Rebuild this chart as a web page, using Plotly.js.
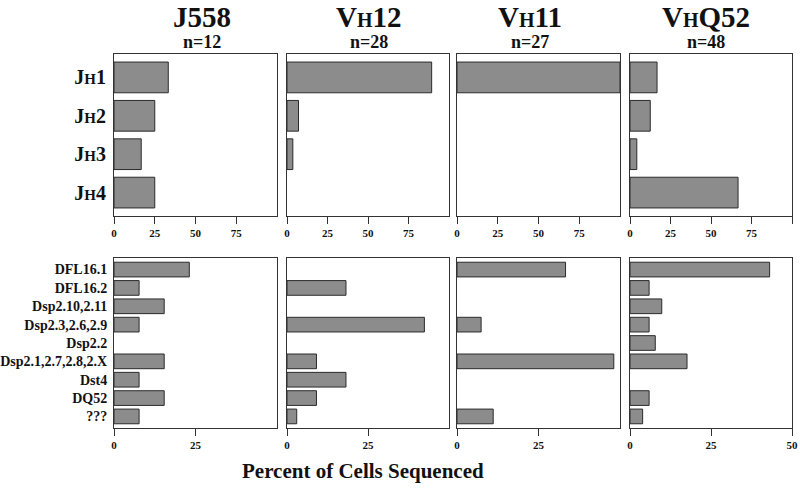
<!DOCTYPE html>
<html>
<head>
<meta charset="utf-8">
<script src="https://cdn.plot.ly/plotly-3.0.1.min.js"></script>
<style>html,body{margin:0;padding:0;background:#fff;}#chart{width:800px;height:502px;}</style>
</head>
<body>
<div id="chart"></div>
<script>
// ---- data ----
const jCats = ['JH1', 'JH2', 'JH3', 'JH4'];
const jLabels = ["J<span style='font-size:15px'>H</span>1", "J<span style='font-size:15px'>H</span>2",
                 "J<span style='font-size:15px'>H</span>3", "J<span style='font-size:15px'>H</span>4"];
const dCats = ['DFL16.1', 'DFL16.2', 'Dsp2.10,2.11', 'Dsp2.3,2.6,2.9', 'Dsp2.2',
               'Dsp2.1,2.7,2.8,2.X', 'Dst4', 'DQ52', '???'];
const families = ['J558', 'VH12', 'VH11', 'VHQ52'];
const familyLabels = ['J558', "V<span style='font-size:20px'>H</span>12",
                      "V<span style='font-size:20px'>H</span>11", "V<span style='font-size:20px'>H</span>Q52"];
const nLabels = ['n=12', 'n=28', 'n=27', 'n=48'];

const jJ558  = [33.3, 25.0, 16.7, 25.0];
const jVH12  = [89.3, 7.1, 3.6, 0];
const jVH11  = [100, 0, 0, 0];
const jVHQ52 = [16.7, 12.5, 4.2, 66.7];

const dJ558  = [23.1, 7.7, 15.4, 7.7, 0, 15.4, 7.7, 15.4, 7.7];
const dVH12  = [0, 18.2, 0, 42.4, 0, 9.1, 18.2, 9.1, 3.0];
const dVH11  = [33.3, 0, 0, 7.4, 0, 48.1, 0, 0, 11.1];
const dVHQ52 = [43.1, 5.9, 9.8, 5.9, 7.8, 17.6, 0, 5.9, 3.9];

const jTicks = [[0, 25, 50, 75], [0, 25, 50, 75], [0, 25, 50, 75], [0, 25, 50, 75, 100]];
const dTicks = [[0, 25], [0, 25], [0, 25], [0, 25, 50]];
const xTitle = 'Percent of Cells Sequenced';

// ---- layout geometry ----
const W = 800, H = 502;
const colPx = [[114, 277], [287, 449], [457, 620], [630, 792]];
const topPx = [54, 216], botPx = [258, 428];
const titleX = [202, 369, 530, 706];
const FONT = '"Liberation Serif"';

const topVals = [jJ558, jVH12, jVH11, jVHQ52];
const botVals = [dJ558, dVH12, dVH11, dVHQ52];

const data = [];
const layout = {
  width: W, height: H,
  margin: {l: 0, r: 0, t: 0, b: 0},
  paper_bgcolor: '#fff', plot_bgcolor: '#fff',
  showlegend: false, bargap: 0.2,
  font: {family: FONT, color: '#111'},
  annotations: []
};

function dom(px) { return [px[0] / W, px[1] / W]; }
function ydom(px) { return [1 - px[1] / H, 1 - px[0] / H]; }

function addPanel(idx, cats, labels, vals, xrange, ticks, xd, yd, showY, ypad) {
  const sfx = idx === 1 ? '' : String(idx);
  data.push({
    type: 'bar', orientation: 'h',
    x: vals.map(v => v === 0 ? null : v), y: cats,
    xaxis: 'x' + sfx, yaxis: 'y' + sfx,
    width: 0.8,
    marker: {color: '#8c8c8c', line: {color: '#2b2b2b', width: 1}},
    hoverinfo: 'x+y'
  });
  layout['xaxis' + sfx] = {
    domain: xd, anchor: 'y' + sfx, range: xrange,
    tickmode: 'array', tickvals: ticks, ticktext: ticks.map(String),
    ticks: 'outside', ticklen: 7, tickwidth: 1, tickcolor: '#333',
    showline: true, mirror: true, linecolor: '#333', linewidth: 1,
    showgrid: false, zeroline: false,
    tickfont: {family: FONT, size: 11, weight: 'bold', color: '#111'}
  };
  layout['yaxis' + sfx] = {
    domain: yd, anchor: 'x' + sfx, type: 'category',
    categoryorder: 'array', categoryarray: cats,
    range: [cats.length - 1 + ypad, -ypad],
    tickmode: 'array', tickvals: cats, ticktext: labels,
    showticklabels: showY, ticks: '',
    ticklabelstandoff: showY ? 3 : 0,
    showline: true, mirror: true, linecolor: '#333', linewidth: 1,
    showgrid: false, zeroline: false,
    tickfont: {family: FONT, size: cats.length === 4 ? 20 : 14, weight: 'bold', color: '#111'}
  };
}

for (let c = 0; c < 4; c++) {
  addPanel(c + 1, jCats, jLabels, topVals[c], [0, 100], jTicks[c], dom(colPx[c]), ydom(topPx), c === 0, 0.61);
  addPanel(c + 5, dCats, dCats, botVals[c], [0, 50], dTicks[c], dom(colPx[c]), ydom(botPx), c === 0, 0.63);
  layout.annotations.push({
    xref: 'paper', yref: 'paper', x: titleX[c] / W, y: 1 - 17 / H,
    xanchor: 'center', yanchor: 'middle', showarrow: false,
    text: familyLabels[c], font: {family: FONT, size: 29, weight: 'bold', color: '#111'}
  });
  layout.annotations.push({
    xref: 'paper', yref: 'paper', x: titleX[c] / W, y: 1 - 42 / H,
    xanchor: 'center', yanchor: 'middle', showarrow: false,
    text: nLabels[c], font: {family: FONT, size: 18, weight: 'bold', color: '#111'}
  });
}
layout.annotations.push({
  xref: 'paper', yref: 'paper', x: 363 / W, y: 1 - 471 / H,
  xanchor: 'center', yanchor: 'middle', showarrow: false,
  text: xTitle, font: {family: FONT, size: 21, weight: 'bold', color: '#111'}
});

Plotly.newPlot('chart', data, layout, {displayModeBar: false, staticPlot: true});
</script>
</body>
</html>
